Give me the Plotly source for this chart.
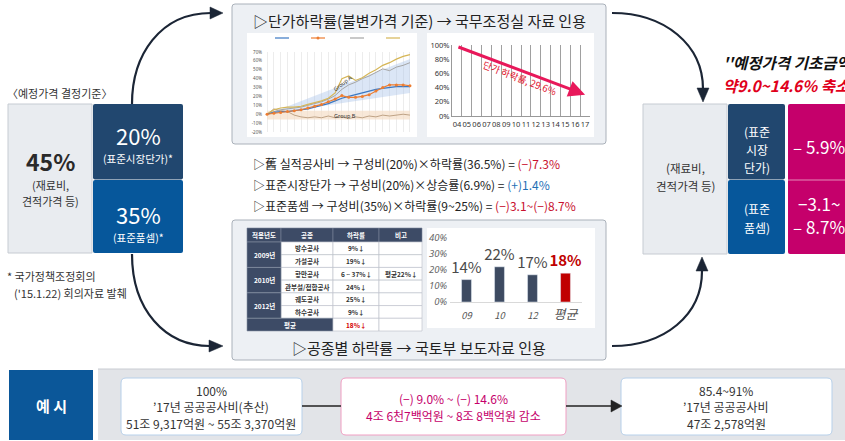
import plotly.graph_objects as go

W, H = 845, 441
KR = "Noto Sans CJK KR, Noto Sans, sans-serif"

# ---------------- data ----------------
basis_title = "〈예정가격 결정기준〉"
basis_other = ["45%", "(재료비,", "견적가격 등)"]
basis_market = ["20%", "(표준시장단가)*"]
basis_std = ["35%", "(표준품셈)*"]
footnote = ["* 국가정책조정회의", "('15.1.22) 회의자료 발췌"]

top_title = "▷단가하락률(불변가격 기준) → 국무조정실 자료 인용"
bottom_title = "▷공종별 하락률 → 국토부 보도자료 인용"

# top-left line chart (half-year index, %)
lc_x = list(range(22))
lc_blue = [0, 2, 3, 3, 4, 5, 6, 8, 10, 12, 15, 18, 20, 22, 24, 26, 28, 29, 30, 31, 31, 31]
lc_orange = [0, 1, 2, 3, 4, 5, 7, 9, 11, 14, 17, 21, 19, 19, 20, 22, 26, 30, 33, 33, 33, 32]
lc_gray = [0, 3, 5, 6, 7, 8, 10, 12, 14, 17, 21, 28, 33, 36, 40, 43, 47, 51, 49, 53, 55, 58]
lc_gold = [0, 5, 7, 8, 8, 9, 11, 13, 15, 18, 24, 40, 43, 38, 41, 46, 50, 55, 58, 62, 65, 67]
lc_groupb = [0, 6, 4, 3, -1, -3, -4, -3, -4, -2, -4, -3, -5, -3, -4, -2, -3, -1, -2, -1, 0, -1]
groupA_x = [0, 21, 21, 0]
groupA_y = [0, 62, 24, 0]
groupB_x = [0, 21, 21, 0, 0]
groupB_y = [-6, -6, 4, 4, -6]
lc_yticks = [70, 60, 50, 40, 30, 20, 10, 0, -10, -20]

# top-right decline chart
dec_years = ["04", "05", "06", "07", "08", "09", "10", "11", "12", "13", "14", "15", "16", "17"]
dec_yticks = [0, 20, 40, 60, 80, 100]
dec_start, dec_end = 98, 30
dec_label = "단가 하락률, 29.6%"

# middle formulas
formulas = [
    ("▷舊 실적공사비 → 구성비(20%)×하락률(36.5%) = ", "(−)7.3%", "#c8102e"),
    ("▷표준시장단가 → 구성비(20%)×상승률(6.9%) = ", "(+)1.4%", "#1f6fb5"),
    ("▷표준품셈 → 구성비(35%)×하락률(9~25%) = ", "(−)3.1~(−)8.7%", "#c8102e"),
]

# table
tbl_header = ["적용년도", "공종", "하락률", "비고"]
tbl_years = ["2009년", "2010년", "2012년"]
tbl_works = ["방수공사", "가설공사", "항만공사", "관부설/접합공사", "궤도공사", "하수공사"]
tbl_rates = ["9%↓", "19%↓", "6 ~ 37%↓", "24%↓", "25%↓", "9%↓"]
tbl_notes = ["", "", "평균22%↓", "", "", ""]
tbl_avg = ["평균", "18%↓"]

# bottom bar chart
bar_cats = ["09", "10", "12", "평균"]
bar_vals = [14, 22, 17, 18]
bar_yticks = [0, 10, 20, 30, 40]

# right side
result_head = ["''예정가격 기초금액", "약9.0~14.6% 축소''"]
right_other = ["(재료비,", "견적가격 등)"]
right_market = ["(표준", "시장", "단가)"]
right_std = ["(표준", "품셈)"]
right_market_val = ["– 5.9%"]
right_std_val = ["−3.1~", "– 8.7%"]

# example band
ex_label = "예 시"
ex_box1 = ["100%", "’17년 공공공사비(추산)", "51조 9,317억원 ~ 55조 3,370억원"]
ex_box2 = ["(−) 9.0% ~ (−) 14.6%", "4조 6천7백억원 ~ 8조 8백억원 감소"]
ex_box3 = ["85.4~91%", "’17년 공공공사비", "47조 2,578억원"]

# ---------------- helpers ----------------
NAVY = "#21476f"
BLUE = "#06579b"
MAG = "#c5006b"
shapes, ann = [], []


def rect(x0, y0, x1, y1, fill, line=None, lw=1, layer="below"):
    shapes.append(dict(type="rect", xref="x", yref="y", x0=x0, y0=y0, x1=x1, y1=y1,
                       fillcolor=fill, line=dict(color=line if line else fill, width=lw if line else 0),
                       layer=layer))


def rrect(x0, y0, x1, y1, r, fill, line=None, lw=1, layer="below"):
    p = (f"M {x0+r} {y0} L {x1-r} {y0} Q {x1} {y0} {x1} {y0+r} L {x1} {y1-r} Q {x1} {y1} {x1-r} {y1} "
         f"L {x0+r} {y1} Q {x0} {y1} {x0} {y1-r} L {x0} {y0+r} Q {x0} {y0} {x0+r} {y0} Z")
    shapes.append(dict(type="path", xref="x", yref="y", path=p, fillcolor=fill,
                       line=dict(color=line if line else fill, width=lw if line else 0), layer=layer))


def path(p, color, width=2, fill=None, layer="above"):
    d = dict(type="path", xref="x", yref="y", path=p, line=dict(color=color, width=width), layer=layer)
    if fill:
        d["fillcolor"] = fill
    shapes.append(d)


def line(x0, y0, x1, y1, color, width=1, layer="above"):
    shapes.append(dict(type="line", xref="x", yref="y", x0=x0, y0=y0, x1=x1, y1=y1,
                       line=dict(color=color, width=width), layer=layer))


def text(x, y, s, size=12, color="#333", xa="center", ya="middle", angle=0, fam=KR, ref=("x", "y")):
    ann.append(dict(xref=ref[0], yref=ref[1], x=x, y=y, text=s, showarrow=False, xanchor=xa,
                    yanchor=ya, textangle=angle, borderpad=0,
                    font=dict(family=fam, size=size, color=color)))


# ---------------- left basis box ----------------
text(6, 93, basis_title, 11, "#333", xa="left")
rect(8, 104, 92, 253, "#e9ecf0", "#c6cbd2", 1)
rrect(93, 104, 183, 179.5, 2, NAVY)
rrect(93, 180, 183, 253, 2, BLUE)
text(50, 161, "<b>" + basis_other[0] + "</b>", 23, "#2a2a2a")
text(50, 185, basis_other[1], 11, "#333")
text(50, 201, basis_other[2], 11, "#333")
text(138, 135, basis_market[0], 22, "white")
text(138, 158, basis_market[1], 10.5, "white")
text(138, 214, basis_std[0], 22, "white")
text(138, 237, basis_std[1], 10.5, "white")
text(6, 276, footnote[0], 11, "#333", xa="left")
text(13, 293, footnote[1], 11, "#333", xa="left")

# ---------------- top box ----------------
rrect(232, 4, 606, 144, 3, "#edf0f4", "#aab1ba", 1)
text(419, 20, top_title, 15, "#222")
rect(247, 33, 417, 137, "white")
rect(427, 33, 594, 137, "white")
# legend samples of the line chart
for lx, col, sym in [(275, "#3a78c3", None), (311, "#ed7d31", "o"), (350, "#a5a5a5", None), (386, "#d6b656", None)]:
    line(lx, 38, lx + 14, 38, col, 1.2)
    if sym:
        shapes.append(dict(type="circle", xref="x", yref="y", x0=lx + 5.5, y0=36.5, x1=lx + 8.5, y1=39.5,
                           fillcolor=col, line=dict(width=0), layer="above"))

# ---------------- middle formulas ----------------
for i, (a, b, col) in enumerate(formulas):
    text(252, 163 + i * 21, a + f"<span style='color:{col}'>{b}</span>", 12, "#222", xa="left")

# ---------------- bottom box ----------------
rrect(232, 220, 606, 360, 3, "#edf0f4", "#aab1ba", 1)
rect(427, 228, 595, 328, "white")
text(419, 347, bottom_title, 15, "#222")

# table
HDR = "#3d4b66"
cx = [247, 281, 333, 379, 422]
rh = (331 - 242) / 7
for j, h in enumerate(tbl_header):
    rect(cx[j], 228, cx[j + 1], 242, HDR, "#7d879a", 0.6, layer="above")
    text((cx[j] + cx[j + 1]) / 2, 235, "<b>" + h + "</b>", 6.5, "white")
for i in range(6):
    y0 = 242 + i * rh
    vals = [tbl_works[i], tbl_rates[i], tbl_notes[i]]
    for j in range(1, 4):
        rect(cx[j], y0, cx[j + 1], y0 + rh, "white", "#b9bec7", 0.6, layer="above")
        if vals[j - 1]:
            text((cx[j] + cx[j + 1]) / 2, y0 + rh / 2, "<b>" + vals[j - 1] + "</b>", 6.5, "#333")
for k, yr in enumerate(tbl_years):
    y0 = 242 + 2 * k * rh
    rect(cx[0], y0, cx[1], y0 + 2 * rh, HDR, "#8a94a6", 0.6, layer="above")
    text((cx[0] + cx[1]) / 2, y0 + rh, "<b>" + yr + "</b>", 6.5, "white")
y0 = 242 + 6 * rh
rect(cx[0], y0, cx[2], y0 + rh, HDR, "#8a94a6", 0.6, layer="above")
text((cx[0] + cx[2]) / 2, y0 + rh / 2, "<b>" + tbl_avg[0] + "</b>", 6.5, "white")
rect(cx[2], y0, cx[3], y0 + rh, "white", "#b9bec7", 0.6, layer="above")
rect(cx[3], y0, cx[4], y0 + rh, "white", "#b9bec7", 0.6, layer="above")
text((cx[2] + cx[3]) / 2, y0 + rh / 2, "<b>" + tbl_avg[1] + "</b>", 6.5, "#d40000")

# ---------------- right result box ----------------
text(722, 62, "<b><i>" + result_head[0] + "</i></b>", 15.5, "#111", xa="left")
text(722, 85, "<b><i>" + result_head[1] + "</i></b>", 15.5, "#e0001b", xa="left")
rect(643, 104, 727, 254, "#e9ecf0", "#c6cbd2", 1)
rrect(728, 104, 785, 179.5, 2, NAVY)
rrect(728, 180, 785, 254, 2, BLUE)
rrect(788, 104, 860, 254, 2, MAG)
line(788, 180, 860, 180, "#e58ab8", 1)
text(685, 168, right_other[0], 11.5, "#333")
text(685, 186, right_other[1], 11.5, "#333")
for i, s in enumerate(right_market):
    text(757, 131 + i * 18, s, 12, "white")
for i, s in enumerate(right_std):
    text(757, 208 + i * 19, s, 12, "white")
text(819, 146, right_market_val[0], 17, "white")
text(819, 203, right_std_val[0], 17, "white")
text(819, 226, right_std_val[1], 17, "white")

# ---------------- curved arrows ----------------
AC = "#1b2535"
path("M 132 104 C 132 55, 160 13, 211 13", AC, 2.2)
path("M 223 13 L 210 7 L 210 19 Z", AC, 0.5, fill=AC)
path("M 132 254 C 132 310, 165 346, 210 346", AC, 2.2)
path("M 223 346 L 209 340 L 209 352 Z", AC, 0.5, fill=AC)
path("M 612 13 C 665 13, 703 45, 703 89", AC, 2.2)
path("M 703 102 L 697 88 L 709 88 Z", AC, 0.5, fill=AC)
path("M 612 346 C 665 346, 702 315, 702 271", AC, 2.2)
path("M 702 257 L 696 271 L 708 271 Z", AC, 0.5, fill=AC)

# ---------------- example band ----------------
rect(98, 369, 845, 440, "#e2e4e8")
line(98, 369, 845, 369, "#c9ccd2", 1, layer="below")
rect(9, 370, 93, 440, "#0b5799")
text(51, 405, "<b>" + ex_label + "</b>", 15, "white")
rrect(121, 378, 302, 435, 5, "white", "#b7d0ea", 1)
rrect(341, 378, 566, 435, 5, "white", "#f09ec2", 1)
rrect(621, 378, 832, 435, 5, "white", "#b7d0ea", 1)
line(302, 406, 341, 406, "#222", 1.3)
line(566, 406, 612, 406, "#222", 1.3)
path("M 622 406 L 611 400 L 611 412 Z", "#222", 0.5, fill="#222")
for i, s in enumerate(ex_box1):
    text(211, 390 + i * 16.5, s, 12, "#333")
for i, s in enumerate(ex_box2):
    text(453, 398 + i * 17, s, 12, MAG)
for i, s in enumerate(ex_box3):
    text(726, 390 + i * 16.5, s, 12, "#333")


# ---------------- figure & traces ----------------
def dom_x(a, b):
    return [a / W, b / W]


def dom_y(top, bot):
    return [1 - bot / H, 1 - top / H]


fig = go.Figure()
# overlay (pixel) axes
fig.add_trace(go.Scatter(x=[0], y=[0], mode="markers", marker=dict(opacity=0), hoverinfo="skip",
                         xaxis="x", yaxis="y"))

# line chart
fig.add_trace(go.Scatter(x=groupA_x, y=groupA_y, fill="toself", fillcolor="rgba(175,200,235,0.45)",
                         line=dict(width=0), mode="lines", xaxis="x2", yaxis="y2", hoverinfo="skip"))
fig.add_trace(go.Scatter(x=groupB_x, y=groupB_y, fill="toself", fillcolor="rgba(245,222,200,0.7)",
                         line=dict(width=0), mode="lines", xaxis="x2", yaxis="y2", hoverinfo="skip"))
fig.add_trace(go.Scatter(x=lc_x, y=lc_groupb, mode="lines", line=dict(color="#b09070", width=0.8),
                         xaxis="x2", yaxis="y2"))
fig.add_trace(go.Scatter(x=lc_x, y=lc_gray, mode="lines", line=dict(color="#a5a5a5", width=1),
                         xaxis="x2", yaxis="y2"))
fig.add_trace(go.Scatter(x=lc_x, y=lc_gold, mode="lines", line=dict(color="#d6b656", width=1.2),
                         xaxis="x2", yaxis="y2"))
fig.add_trace(go.Scatter(x=lc_x, y=lc_blue, mode="lines", line=dict(color="#3a78c3", width=1.2),
                         xaxis="x2", yaxis="y2"))
fig.add_trace(go.Scatter(x=lc_x, y=lc_orange, mode="lines+markers", line=dict(color="#ed7d31", width=1.2),
                         marker=dict(size=3, color="#ed7d31"), xaxis="x2", yaxis="y2"))
text(11.2, 35, "Group A", 5.5, "#333", angle=-38, fam="Noto Sans", ref=("x2", "y2"))
text(11.5, -2, "Group B", 5.5, "#333", fam="Noto Sans", ref=("x2", "y2"))

# decline chart
fig.add_trace(go.Scatter(x=[0], y=[0], mode="markers", marker=dict(opacity=0), xaxis="x3", yaxis="y3",
                         hoverinfo="skip"))
ann.append(dict(xref="x3", yref="y3", axref="x3", ayref="y3", x=13, y=dec_end, ax=0, ay=dec_start,
                showarrow=True, arrowhead=2, arrowsize=1.1, arrowwidth=3, arrowcolor="#e8185a", text=""))
text(6.4, 54, dec_label, 9.5, "#e0102a", angle=21, ref=("x3", "y3"))

# bar chart
fig.add_trace(go.Bar(x=bar_cats, y=bar_vals, width=0.3,
                     marker=dict(color=["#3d4a61", "#3d4a61", "#3d4a61", "#c00000"]),
                     text=[f"{v}%" for v in bar_vals[:-1]] + [f"<b>{bar_vals[-1]}%</b>"],
                     textposition="outside", cliponaxis=False, constraintext="none", textangle=0,
                     textfont=dict(family=KR, size=15, color=["#4a4a4a", "#4a4a4a", "#4a4a4a", "#c00000"]),
                     xaxis="x4", yaxis="y4"))

fig.update_layout(
    width=W, height=H, margin=dict(l=0, r=0, t=0, b=0, pad=0, autoexpand=False),
    paper_bgcolor="white", plot_bgcolor="rgba(0,0,0,0)", showlegend=False,
    font=dict(family=KR),
    xaxis=dict(domain=[0, 1], range=[0, W], visible=False, fixedrange=True, automargin=False),
    yaxis=dict(domain=[0, 1], range=[H, 0], visible=False, fixedrange=True, automargin=False),
    xaxis2=dict(domain=dom_x(265, 412), range=[-0.3, 21.3], anchor="y2", showgrid=True, gridcolor="#ececec",
                dtick=1, showticklabels=False, zeroline=False, automargin=False),
    yaxis2=dict(domain=dom_y(52, 132), range=[-20, 70], anchor="x2", tickmode="array", tickvals=lc_yticks,
                ticktext=[f"{v}%" for v in lc_yticks],
                tickfont=dict(size=4.5, color="#555", family="Noto Sans"), showgrid=False, zeroline=False,
                ticklabelstandoff=2, automargin=False),
    xaxis3=dict(domain=dom_x(452, 590), range=[-0.5, 13.5], anchor="y3", tickmode="array",
                tickvals=list(range(len(dec_years))), ticktext=dec_years, showgrid=False, tickangle=0,
                tickfont=dict(size=7.5, color="#333", family="Noto Sans"), showline=True, linecolor="#999",
                minor=dict(tickmode="linear", tick0=-0.5, dtick=1, showgrid=True, gridcolor="#a0a0a0",
                           gridwidth=1), zeroline=False, ticklabelstandoff=1, automargin=False),
    yaxis3=dict(domain=dom_y(45, 116), range=[0, 100], anchor="x3", tickmode="array", tickvals=dec_yticks,
                ticktext=[f"{v}%" for v in dec_yticks],
                tickfont=dict(size=7.5, color="#333", family="Noto Sans"), showgrid=False, showline=True,
                linecolor="#999", zeroline=False, automargin=False),
    xaxis4=dict(domain=dom_x(450, 582), anchor="y4", type="category", tickmode="array",
                tickvals=bar_cats,
                ticktext=[f"<i>{c}</i>" for c in bar_cats[:-1]] + [f"<i><span style='font-size:13px'>{bar_cats[-1]}</span></i>"],
                tickfont=dict(size=9.5, color="#555", family=KR), showline=True,
                linecolor="#d9d9d9", ticklabelstandoff=5, automargin=False, tickangle=0),
    yaxis4=dict(domain=dom_y(238, 302), range=[0, 40], anchor="x4", tickmode="array", tickvals=bar_yticks,
                ticktext=[f"<i>{v}%</i>" for v in bar_yticks],
                tickfont=dict(size=9.5, color="#666", family="Noto Sans"),
                showgrid=False, zeroline=False, ticklabelstandoff=2, automargin=False),
    shapes=shapes, annotations=ann,
)

fig.write_html("out.html", config={"displayModeBar": False},
               post_script="document.body.style.margin='0';document.body.style.overflow='hidden';")
